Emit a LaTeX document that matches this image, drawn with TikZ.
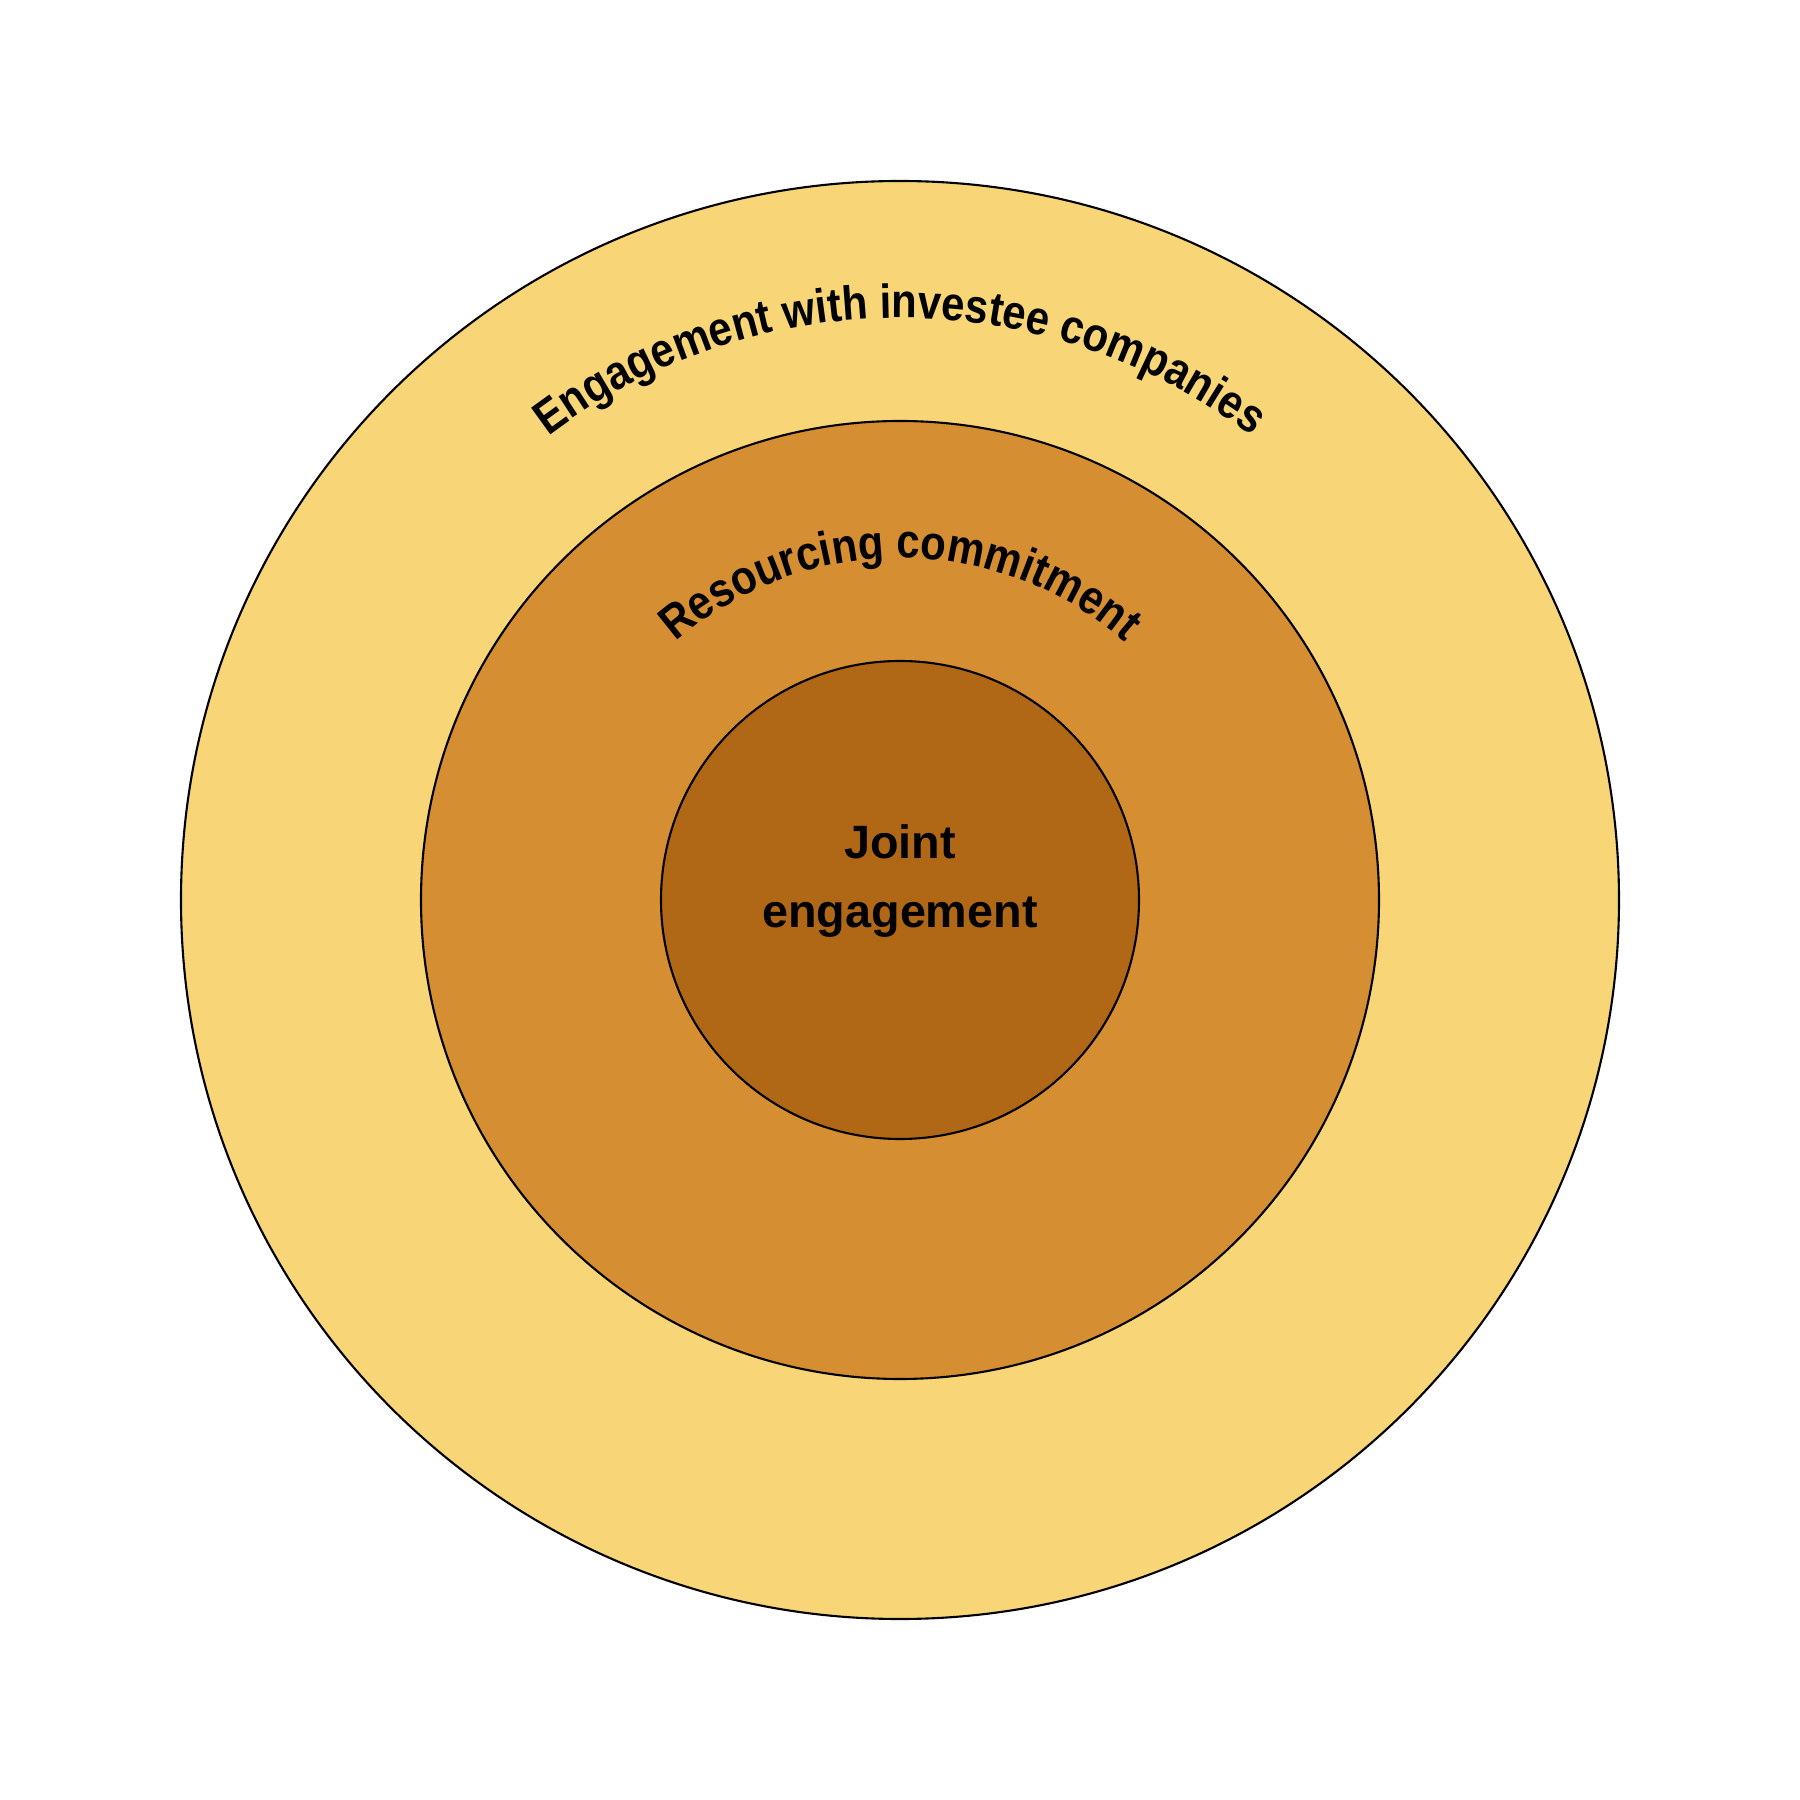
\documentclass[tikz,border=0pt]{standalone}
\usepackage{fontspec}
\setmainfont{Liberation Sans}
\newfontfamily\arcfont[FakeStretch=0.875]{Liberation Sans}
\usetikzlibrary{decorations.text}
\definecolor{ringouter}{RGB}{248,214,119}
\definecolor{ringmiddle}{RGB}{214,142,50}
\definecolor{ringinner}{RGB}{177,104,22}
\tikzset{
  ring/.style={circle, draw=black, line width=0.6pt, inner sep=0pt, outer sep=0pt},
  arclabel/.style={decorate, decoration={text along path, text align=center,
      text={|\arcfont\bfseries\fontsize{13.6}{16}\selectfont|#1}}},
  centerlabel/.style={font=\bfseries\fontsize{13.3}{19.5}\selectfont, align=center, inner sep=0pt}
}
\begin{document}
\begin{tikzpicture}
\useasboundingbox (0,0) rectangle (18,18);
\fill[white] (0,0) rectangle (18,18);
\coordinate (c) at (9,9);
\node[ring, fill=ringouter, minimum size=14.38cm] (outer) at (c) {};
\node[ring, fill=ringmiddle, minimum size=9.58cm] (middle) at (c) {};
\node[ring, fill=ringinner, minimum size=4.78cm] (inner) at (c) {};
\path[arclabel={Engagement with investee companies}] (c) ++(140:5.82) arc[start angle=140, end angle=40, radius=5.82];
\path[arclabel={Resourcing commitment}] (c) ++(140:3.42) arc[start angle=140, end angle=40, radius=3.42];
\node[centerlabel] (joint) at (9,9.19) {Joint\\engagement};
\end{tikzpicture}
\end{document}
